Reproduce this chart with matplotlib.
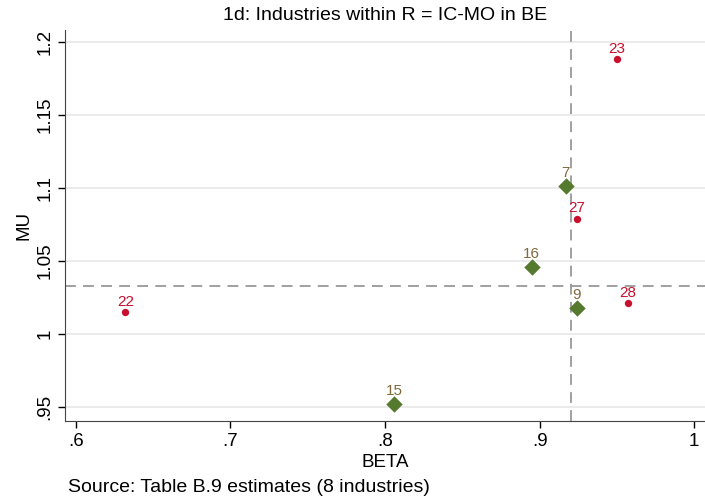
import matplotlib.pyplot as plt
from matplotlib import font_manager

names = {f.name for f in font_manager.fontManager.ttflist}
fam = 'Liberation Sans Narrow' if 'Liberation Sans Narrow' in names else 'Liberation Sans'
plt.rcParams['font.family'] = [fam, 'DejaVu Sans']

# industries outside (red dots) and inside (green diamonds) the group
red_ids = ['23', '27', '28', '22']
red_beta = [0.950, 0.924, 0.957, 0.632]
red_mu = [1.188, 1.079, 1.021, 1.015]

green_ids = ['7', '16', '9', '15']
green_beta = [0.917, 0.895, 0.924, 0.806]
green_mu = [1.101, 1.046, 1.018, 0.952]

beta_mean = 0.920
mu_mean = 1.033

xticks = [0.6, 0.7, 0.8, 0.9, 1.0]
xlabels = ['.6', '.7', '.8', '.9', '1']
yticks = [0.95, 1.0, 1.05, 1.1, 1.15, 1.2]
ylabels = ['.95', '1', '1.05', '1.1', '1.15', '1.2']

red = '#C8102E'
green = '#557A2E'
brown = '#7E6A3C'

fig = plt.figure(figsize=(7.05, 5.01), dpi=100)
ax = fig.add_axes([0.0922, 0.1597, 0.9078, 0.7803])

for y in yticks:
    ax.axhline(y, color='#E8E8E8', lw=1.2, zorder=0)

ax.axvline(beta_mean, color='#999999', lw=1.3, ls=(0, (6, 4)), zorder=1)
ax.axhline(mu_mean, color='#999999', lw=1.3, ls=(0, (6, 4)), zorder=1)

ax.scatter(red_beta, red_mu, s=28, color=red, marker='o', zorder=3, linewidths=0)
ax.scatter(green_beta, green_mu, s=70, color=green, marker='D', zorder=3, linewidths=0)

for b, m, t in zip(red_beta, red_mu, red_ids):
    ax.annotate(t, (b, m), xytext=(0, 4.5), textcoords='offset points',
                ha='center', va='baseline', color=red, fontsize=11)
for b, m, t in zip(green_beta, green_mu, green_ids):
    ax.annotate(t, (b, m), xytext=(0, 6.5), textcoords='offset points',
                ha='center', va='baseline', color=brown, fontsize=11)

ax.set_xlim(0.593, 1.007)
ax.set_ylim(0.9404, 1.208)
ax.set_xticks(xticks)
ax.set_xticklabels(xlabels)
ax.set_yticks(yticks)
ax.set_yticklabels(ylabels, rotation=90, va='center')
ax.tick_params(direction='out', length=5, labelsize=13.5, width=1)
ax.spines['top'].set_visible(False)
ax.spines['right'].set_visible(False)
ax.spines['left'].set_color('#444444')
ax.spines['bottom'].set_color('#444444')

ax.set_xlabel('BETA', fontsize=13.5, labelpad=3)
ax.set_ylabel('MU', fontsize=13.5, labelpad=3)
fig.text(0.546, 0.97, '1d: Industries within R = IC-MO in BE', ha='center',
         va='center', fontsize=14)
fig.text(0.096, 0.017, 'Source: Table B.9 estimates (8 industries)', fontsize=14)

fig.savefig('out.png', dpi=100)
